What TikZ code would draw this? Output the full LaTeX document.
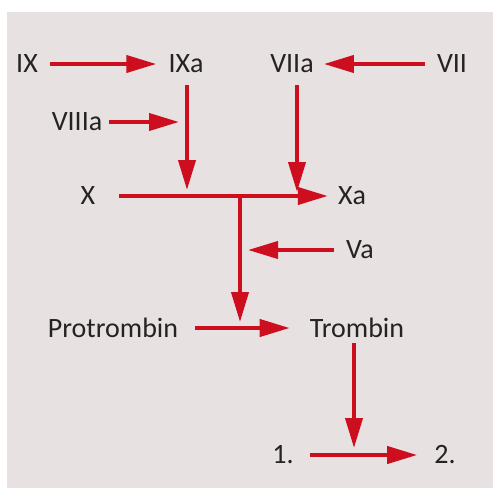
\documentclass[tikz,border=0pt]{standalone}
\usepackage{fontspec}
\setmainfont{Carlito}
\usepackage{tikz}
\usetikzlibrary{arrows.meta, positioning, calc}
\definecolor{bgcolor}{RGB}{232, 225, 225}
\definecolor{flowcolor}{RGB}{204, 14, 30}
\definecolor{textcolor}{RGB}{35, 35, 35}

\begin{document}
\begin{tikzpicture}[
    x=1pt, y=-1pt,
    factor/.style={inner sep=0pt, text=textcolor, font=\fontsize{28}{30}\selectfont},
    flow/.style={draw=flowcolor, line width=4pt, -{Triangle[length=30pt, width=17pt]}, shorten <=12pt, shorten >=12pt}
]
    \useasboundingbox (0,0) rectangle (493,488);
    \fill[bgcolor] (7,12) rectangle (493,488);

    % factors
    \node[factor] (IX) at (27,64) {IX};
    \node[factor] (IXa) at (186,64) {IXa};
    \node[factor] (VIIa) at (292,64) {VIIa};
    \node[factor] (VII) at (452,64) {VII};
    \node[factor] (VIIIa) at (77,122) {VIIIa};
    \node[factor] (X) at (88,196) {X};
    \node[factor] (Xa) at (352,196) {Xa};
    \node[factor] (Va) at (360,250) {Va};
    \node[factor] (Protrombin) at (113,328) {Protrombin};
    \node[factor] (Trombin) at (357,328) {Trombin};
    \node[factor] (one) at (283,455) {1.};
    \node[factor] (two) at (445,455) {2.};

    % junctions on the lines
    \coordinate (jVIIIa) at (187,122);
    \coordinate (jIXa) at (187,196);
    \coordinate (jVIIa) at (297,196);
    \coordinate (jX) at (240,196);
    \coordinate (jPro) at (240,328);
    \coordinate (jTro) at (354,454);

    \draw[flow] (IX.east) -- (IXa.west);
    \draw[flow, shorten >=10pt] (VII.west) -- (VIIa.east);
    \draw[flow, shorten <=7pt, shorten >=8pt] (VIIIa.east) -- (jVIIIa);
    \draw[flow, shorten >=6pt] (IXa.south -| jIXa) -- (jIXa);
    \draw[flow, shorten >=4pt] (VIIa.south -| jVIIa) -- (jVIIa);
    \draw[flow, shorten <=24pt, shorten >=10pt] (X.east) -- (Xa.west);
    \draw[flow, shorten <=0pt, shorten >=6pt] (jX) -- (jPro);
    \draw[flow, shorten >=8pt] (Va.west) -- (Va.west -| jX);
    \draw[flow, shorten <=17pt, shorten >=20pt] (Protrombin.east) -- (Trombin.west);
    \draw[flow, shorten <=5pt, shorten >=6pt] (Trombin.south -| jTro) -- (jTro);
    \draw[flow, shorten <=16pt, shorten >=17pt] (one.east) -- (two.west);
\end{tikzpicture}
\end{document}
